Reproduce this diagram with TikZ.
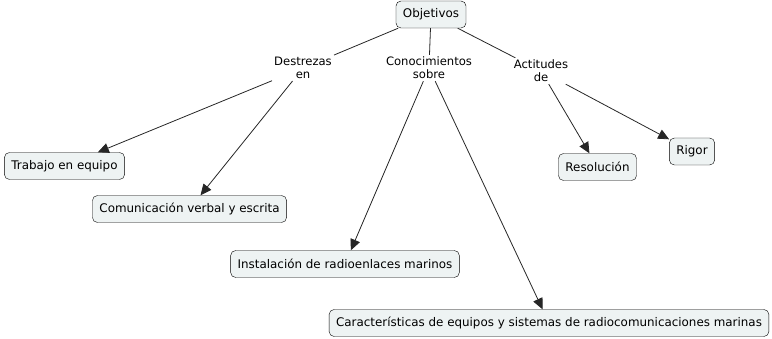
\documentclass[tikz,border=0pt]{standalone}
\usepackage{fontspec}
\setmainfont{DejaVu Sans}
\usetikzlibrary{arrows.meta,positioning}
\definecolor{cfill}{HTML}{EEF3F3}
\tikzset{
  concept/.style={draw=black,rounded corners=5pt,fill=cfill,align=center,minimum height=27pt,inner xsep=7pt,font=\fontsize{11.9}{13}\selectfont},
  link/.style={align=center,inner sep=2pt,font=\fontsize{11.6}{13}\selectfont},
  line/.style={draw=black!85,line width=0.8pt},
  arr/.style={line,-{Triangle[length=11pt,width=10pt]}}
}
\begin{document}
\begin{tikzpicture}[x=1pt,y=-1pt]
\useasboundingbox (0,0) rectangle (772,339);
\node[concept] (obj) at (431,14.5) {Objetivos};
\node[link] (dest) at (303,68) {Destrezas\\en};
\node[link] (cono) at (429,68) {Conocimientos\\sobre};
\node[link] (act) at (541,71) {Actitudes\\de};
\node[concept] (trab) at (64.5,166) {Trabajo en equipo};
\node[concept] (comu) at (189.5,209) {Comunicación verbal y escrita};
\node[concept] (inst) at (345,264) {Instalación de radioenlaces marinos};
\node[concept] (cara) at (549,323) {Características de equipos y sistemas de radiocomunicaciones marinas};
\node[concept] (reso) at (597.5,167) {Resolución};
\node[concept] (rig) at (692,151.5) {Rigor};
\draw[line] (obj) -- (dest); \draw[line] (obj) -- (cono); \draw[line] (obj) -- (act);
\draw[arr] (dest) -- (trab); \draw[arr] (dest) -- (comu);
\draw[arr] (cono) -- (inst); \draw[arr] (cono) -- (cara);
\draw[arr] (act) -- (reso); \draw[arr] (act) -- (rig);
\end{tikzpicture}
\end{document}
